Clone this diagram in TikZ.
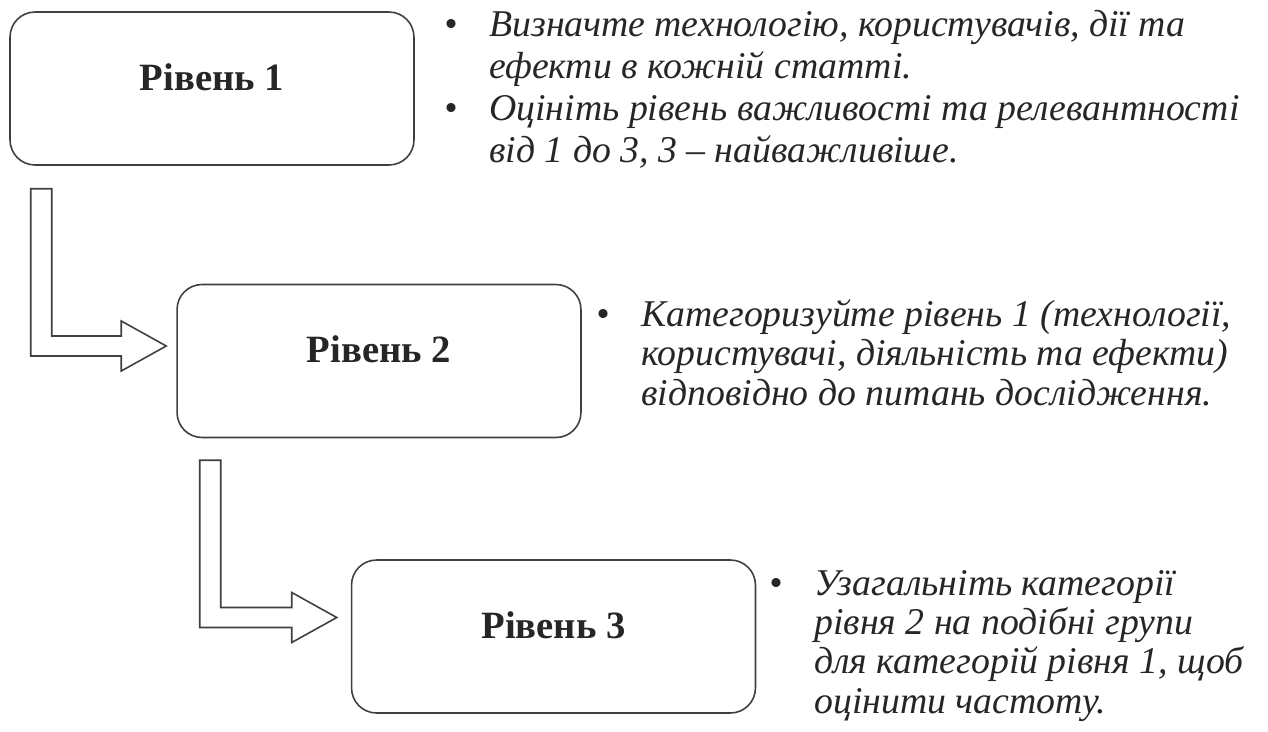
\documentclass[tikz,border=0pt]{standalone}
\usepackage{fontspec}
\setmainfont{Liberation Serif}
\usetikzlibrary{calc}
\definecolor{boxgray}{HTML}{404040}
\definecolor{inkgray}{HTML}{262626}
\tikzset{
  levelbox/.style={draw=boxgray, line width=0.9pt, rounded corners=0.5cm,
    minimum width=8.08cm, minimum height=3.06cm, text=inkgray,
    font=\fontsize{22}{26}\selectfont\bfseries, text height=15pt, text depth=13pt},
  flowarrow/.style={draw=boxgray, line width=0.9pt, line join=miter},
  note/.style={anchor=base west, inner sep=0pt, text=inkgray, font=\itshape},
}
% hollow L-shaped arrow: #1 top of the shaft, #2 tip
\newcommand{\blockarrow}[2]{%
  \draw[flowarrow] ($(#1)+(-10.5,0)$) |- ($(#2)+(-45,10)$) -- ($(#2)+(-45,25)$) -- (#2)
    -- ($(#2)+(-45,-25)$) -- ($(#2)+(-45,-10)$) -| ($(#1)+(10.5,0)$) -- cycle;}
\begin{document}
\begin{tikzpicture}[x=0.02cm, y=-0.02cm]
  \fill[white] (0,0) rectangle (1268,731);
  \useasboundingbox (0,0) rectangle (1268,731);

  \node[levelbox] (lvl1) at (212,88.5) {Рівень 1};
  \node[levelbox] (lvl2) at (379,361) {Рівень 2};
  \node[levelbox] (lvl3) at (553.5,636.5) {Рівень 3};

  \coordinate (a1top) at ($(lvl1.south west)+(32,23)$);
  \coordinate (a1tip) at ($(lvl2.west)+(-10,-15)$);
  \coordinate (a2top) at ($(lvl2.south west)+(34,22)$);
  \coordinate (a2tip) at ($(lvl3.west)+(-14,-19)$);
  \blockarrow{a1top}{a1tip}
  \blockarrow{a2top}{a2tip}

  \node[note] (note1) at (444,36) {\fontsize{21.5}{24}\selectfont
    \begin{tabular}[t]{@{}p{0.9cm}@{}l@{}}
      \textbullet & Визначте технологію, користувачів, дії та\\
                  & ефекти в кожній статті.\\
      \textbullet & Оцініть рівень важливості та релевантності\\
                  & від 1 до 3, 3 – найважливіше.
    \end{tabular}};
  \node[note] (note2) at (596,326) {\fontsize{21.5}{22.7}\selectfont
    \begin{tabular}[t]{@{}p{0.9cm}@{}l@{}}
      \textbullet & Категоризуйте рівень 1 (технології,\\
                  & користувачі, діяльність та ефекти)\\
                  & відповідно до питань дослідження.
    \end{tabular}};
  \node[note] (note3) at (769,595) {\fontsize{21.5}{22.4}\selectfont
    \begin{tabular}[t]{@{}p{0.9cm}@{}l@{}}
      \textbullet & Узагальніть категорії\\
                  & рівня 2 на подібні групи\\
                  & для категорій рівня 1, щоб\\
                  & оцінити частоту.
    \end{tabular}};
\end{tikzpicture}
\end{document}
